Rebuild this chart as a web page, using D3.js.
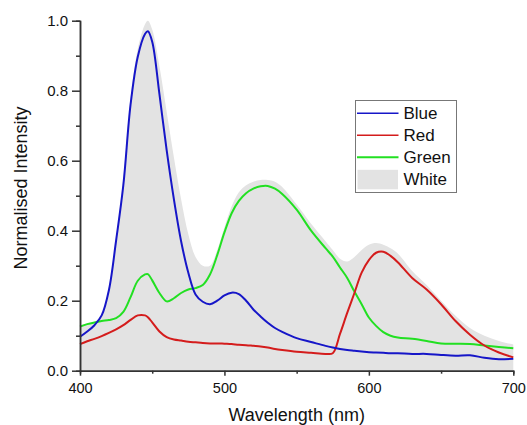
<!DOCTYPE html>
<html>
<head>
<meta charset="utf-8">
<script src="https://cdn.jsdelivr.net/npm/d3@7"></script>
<style>
  html, body { margin: 0; padding: 0; background: #fff; }
  svg { display: block; font-family: "Liberation Sans", Arial, sans-serif; }
</style>
</head>
<body>
<svg id="chart" width="527" height="425"></svg>
<script>
// wavelength samples (nm), shared by all four spectra
const wavelengths = [400, 405, 410, 415, 420, 425, 430, 435, 440, 445, 447, 450, 455, 460, 465, 470, 475, 480, 485, 490,
  495, 500, 505, 510, 515, 520, 525, 530, 535, 540, 550, 560, 570, 575, 580, 585, 590, 595, 600, 605,
  610, 615, 620, 630, 640, 650, 660, 670, 680, 690, 700];

const blueValues = [0.097, 0.112, 0.13, 0.158, 0.23, 0.372, 0.53, 0.76, 0.897, 0.962, 0.97, 0.94, 0.79, 0.63, 0.49, 0.37, 0.28, 0.218, 0.197, 0.19,
  0.2, 0.215, 0.223, 0.219, 0.2, 0.175, 0.155, 0.137, 0.122, 0.111, 0.093, 0.082, 0.071, 0.066, 0.062, 0.059, 0.057, 0.055, 0.053, 0.052,
  0.051, 0.05, 0.05, 0.048, 0.048, 0.045, 0.043, 0.044, 0.037, 0.033, 0.034];

const redValues = [0.076, 0.084, 0.091, 0.099, 0.108, 0.118, 0.13, 0.145, 0.158, 0.158, 0.153, 0.138, 0.112, 0.096, 0.089, 0.086, 0.083, 0.081, 0.079, 0.078,
  0.078, 0.077, 0.076, 0.074, 0.073, 0.071, 0.069, 0.066, 0.062, 0.059, 0.054, 0.051, 0.048, 0.05, 0.105, 0.165, 0.222, 0.28, 0.316, 0.337,
  0.34, 0.328, 0.31, 0.265, 0.232, 0.19, 0.142, 0.103, 0.072, 0.052, 0.038];

const greenValues = [0.126, 0.133, 0.138, 0.142, 0.145, 0.15, 0.168, 0.21, 0.257, 0.275, 0.276, 0.258, 0.222, 0.198, 0.207, 0.222, 0.232, 0.236, 0.245, 0.275,
  0.33, 0.395, 0.45, 0.485, 0.507, 0.52, 0.527, 0.528, 0.52, 0.505, 0.46, 0.4, 0.35, 0.326, 0.295, 0.265, 0.226, 0.19, 0.152, 0.128,
  0.11, 0.1, 0.095, 0.091, 0.085, 0.078, 0.077, 0.076, 0.072, 0.068, 0.064];

const whiteValues = [0.13, 0.135, 0.14, 0.16, 0.24, 0.38, 0.55, 0.78, 0.92, 0.99, 1.0, 0.975, 0.87, 0.74, 0.61, 0.49, 0.39, 0.325, 0.3, 0.3,
  0.345, 0.41, 0.47, 0.51, 0.53, 0.54, 0.545, 0.545, 0.54, 0.525, 0.475, 0.42, 0.37, 0.345, 0.32, 0.312, 0.325, 0.345, 0.36, 0.365,
  0.36, 0.35, 0.335, 0.285, 0.245, 0.2, 0.157, 0.122, 0.1, 0.085, 0.075];

const seriesNames = ["Blue", "Red", "Green", "White"];
const xTicks = [400, 500, 600, 700];
const xMinorTicks = [450, 550, 650];
const yTicks = [0, 0.2, 0.4, 0.6, 0.8, 1.0];
const yMinorTicks = [0.1, 0.3, 0.5, 0.7, 0.9];

const colors = { Blue: "#1616c8", Red: "#d41c1c", Green: "#22e022", White: "#e3e3e3" };

const svg = d3.select("#chart");
const x = d3.scaleLinear().domain([400, 700]).range([80, 513.3]);
const y = d3.scaleLinear().domain([0, 1]).range([370.7, 20.7]);

const toPoints = vals => wavelengths.map((w, i) => [w, vals[i]]);
const smooth = d3.curveCatmullRom.alpha(0.5);

// white spectrum as filled area
const area = d3.area()
  .x(d => x(d[0]))
  .y0(y(0))
  .y1(d => y(d[1]))
  .curve(smooth);

svg.append("path")
  .attr("d", area(toPoints(whiteValues)))
  .attr("fill", colors.White);

const line = d3.line()
  .x(d => x(d[0]))
  .y(d => y(d[1]))
  .curve(smooth);

[["Green", greenValues], ["Red", redValues], ["Blue", blueValues]].forEach(([name, vals]) => {
  svg.append("path")
    .attr("d", line(toPoints(vals)))
    .attr("fill", "none")
    .attr("stroke", colors[name])
    .attr("stroke-width", 2);
});

// axes
const axisColor = "#333";
function styleAxis(g) {
  g.selectAll(".domain, line").attr("stroke", axisColor).attr("stroke-width", 1.5);
  g.selectAll("text").attr("fill", "#111").style("font-family", "'Liberation Sans', Arial, sans-serif");
}

svg.append("g")
  .attr("transform", `translate(0,${y(0)})`)
  .call(d3.axisBottom(x).tickValues(xMinorTicks).tickSize(3).tickFormat(""))
  .call(styleAxis);

svg.append("g")
  .attr("transform", `translate(0,${y(0)})`)
  .call(d3.axisBottom(x).tickValues(xTicks).tickSize(5).tickSizeOuter(0).tickPadding(7).tickFormat(d3.format("d")))
  .call(g => g.selectAll("text").style("font-size", "14.5px"))
  .call(styleAxis);

svg.append("g")
  .attr("transform", `translate(${x(400)},0)`)
  .call(d3.axisLeft(y).tickValues(yMinorTicks).tickSize(4).tickFormat(""))
  .call(styleAxis);

svg.append("g")
  .attr("transform", `translate(${x(400)},0)`)
  .call(d3.axisLeft(y).tickValues(yTicks).tickSize(8).tickSizeOuter(0).tickPadding(4).tickFormat(d3.format(".1f")))
  .call(g => g.selectAll("text").style("font-size", "15px"))
  .call(styleAxis);

// axis titles
svg.append("text")
  .attr("x", 296.7)
  .attr("y", 421)
  .attr("text-anchor", "middle")
  .style("font-size", "18px")
  .attr("fill", "#111")
  .text("Wavelength (nm)");

svg.append("text")
  .attr("transform", "translate(27,188) rotate(-90)")
  .attr("text-anchor", "middle")
  .style("font-size", "18px")
  .attr("fill", "#111")
  .text("Normalised Intensity");

// legend
const legend = svg.append("g");
legend.append("rect")
  .attr("x", 355.5).attr("y", 100.5)
  .attr("width", 101).attr("height", 92)
  .attr("fill", "#fff")
  .attr("stroke", "#777")
  .attr("stroke-width", 1);

seriesNames.forEach((name, i) => {
  const cy = 113.3 + i * 22;
  if (name === "White") {
    legend.append("rect")
      .attr("x", 357.5).attr("y", cy - 9.5)
      .attr("width", 40.5).attr("height", 19.5)
      .attr("fill", colors.White);
  } else {
    legend.append("line")
      .attr("x1", 357).attr("x2", 398.5)
      .attr("y1", cy).attr("y2", cy)
      .attr("stroke", colors[name])
      .attr("stroke-width", name === "Green" ? 2 : 1.5);
  }
  legend.append("text")
    .attr("x", 403.5)
    .attr("y", cy + 6)
    .style("font-size", "17px")
    .attr("fill", "#111")
    .text(name);
});
</script>
</body>
</html>
